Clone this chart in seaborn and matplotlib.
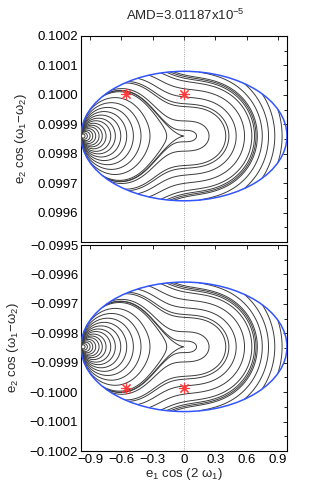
import numpy as np
import matplotlib
matplotlib.use("Agg")
import matplotlib.pyplot as plt
from matplotlib.patches import Ellipse
from matplotlib.ticker import FixedLocator, MultipleLocator
import seaborn as sns

sns.set_theme(style="white")
plt.rcParams['font.family'] = ['Liberation Sans', 'DejaVu Sans']
plt.rcParams['mathtext.fontset'] = 'custom'
plt.rcParams['mathtext.rm'] = 'Liberation Sans'
plt.rcParams['mathtext.it'] = 'Liberation Sans:italic'
plt.rcParams['mathtext.bf'] = 'Liberation Sans:bold'

# ---------------- data ----------------
title_text = "AMD=3.01187x10$^{-5}$"
e1_max = 0.987            # semi-axis of the AMD-limit ellipse (e1 direction)
e2_half = 0.00022         # semi-axis of the AMD-limit ellipse (e2 direction)
center_top = 0.09986
center_bot = -0.099846
aspect = 0.626            # e2 half-axis / e1 half-axis as drawn
sigma = 0.5               # width of the resonant term of the model
mu = 1.5                  # vertical strength of the resonant term

# contour crossings (e1 values)
left_cross_e1 = [-0.948, -0.926, -0.900, -0.874, -0.846, -0.814, -0.783,
                 -0.747, -0.702, -0.658, -0.606, -0.549, -0.485, -0.412,
                 -0.326, -0.166, 0.0]
right_cross_e1 = [0.12, 0.24, 0.40, 0.43, 0.50, 0.58, 0.65, 0.69, 0.75,
                  0.81, 0.87, 0.94]
# contour crossings read along e1 = 0 near the upper border (top panel y)
upper_cross_y = [0.100057, 0.100068]

star_e1 = [-0.556, 0.0]
star_y_top = [0.100002, 0.100002]
star_y_bot = [-0.099986, -0.099986]

xticks = [-0.9, -0.6, -0.3, 0.0, 0.3, 0.6, 0.9]
xtick_labels = ["\u22120.9", "\u22120.6", "\u22120.3", "0", "0.3", "0.6", "0.9"]
yticks_top = [0.0995, 0.0996, 0.0997, 0.0998, 0.0999, 0.1000, 0.1001, 0.1002]
yticks_bot = [-0.1002, -0.1001, -0.1000, -0.0999, -0.0998, -0.0997, -0.0996, -0.0995]


def field(X, Y):
    """Model secular Hamiltonian in isotropic normalised coordinates."""
    r2 = (X + 1.0) ** 2 + Y ** 2
    r2 = np.where(r2 == 0, 1e-12, r2)
    P = (X + 1.0) / r2
    G = (X - X ** 2 - mu * Y ** 2) * np.exp(-(X ** 2 + Y ** 2) / sigma ** 2)
    return P + G


# levels from the measured crossings
lv = [field(np.array(x / e1_max), np.array(0.0)) for x in left_cross_e1 + right_cross_e1]
lv += [field(np.array(0.0), np.array((y - center_top) / e2_half * aspect)) for y in upper_cross_y]
levels = np.unique(np.round(np.array(lv, dtype=float), 6))

# ---------------- grid ----------------
n = 1400
u = np.linspace(-1.0, 1.0, n)
v = np.linspace(-1.0, 1.0, n)
U, V = np.meshgrid(u, v)
H = field(U, V * aspect)
H = np.where(U ** 2 + V ** 2 <= 1.0, H, np.nan)

fig = plt.figure(figsize=(3.16, 4.87), dpi=100)
ax_top = fig.add_axes([0.2563, 0.5031, 0.6519, 0.4230])
ax_bot = fig.add_axes([0.2563, 0.0739, 0.6519, 0.4230])

line_col = '#3c3c3c'
blue = '#3355ff'
red = '#ff3b3b'

for ax, cen, sgn, sy, yt in [(ax_top, center_top, 1.0, star_y_top, yticks_top),
                              (ax_bot, center_bot, -1.0, star_y_bot, yticks_bot)]:
    X = e1_max * U
    Y = cen + sgn * e2_half * V
    ax.contour(X, Y, H, levels=levels, colors=line_col, linewidths=0.7,
               linestyles='solid')
    ax.add_patch(Ellipse((0.0, cen), 2 * e1_max, 2 * e2_half, fill=False,
                         edgecolor=blue, linewidth=1.1, zorder=3))
    ax.axvline(0.0, color='#8a8a8a', linestyle=':', linewidth=0.6, zorder=1)
    ax.plot(star_e1, sy, linestyle='none', marker=(8, 2, 0), markersize=8,
            markeredgewidth=0.8, color=red, zorder=4)
    ax.set_xlim(-e1_max, e1_max)
    ax.set_ylim(yt[0], yt[-1])
    ax.xaxis.set_major_locator(FixedLocator(xticks))
    ax.yaxis.set_major_locator(FixedLocator(yt))
    ax.yaxis.set_minor_locator(MultipleLocator(0.00005))
    ax.tick_params(which='both', direction='in', top=True, right=True,
                   labelsize=9.5, pad=2, width=0.6, colors='black')
    ax.tick_params(which='major', length=3)
    ax.tick_params(which='minor', length=2)
    for s in ax.spines.values():
        s.set_color('black')
        s.set_linewidth(0.8)
    ax.set_ylabel("e$_2$ cos (\u03c9$_1$\u2212\u03c9$_2$)", fontsize=9.5)

top_labels = ["%.4f" % t for t in yticks_top]
top_labels[0] = ""
ax_top.set_yticklabels(top_labels)
ax_bot.set_yticklabels([("%.4f" % t).replace("-", "\u2212") for t in yticks_bot])
ax_top.yaxis.set_label_coords(-0.25, 0.5)
ax_bot.yaxis.set_label_coords(-0.29, 0.5)

ax_top.set_xticklabels([])
ax_bot.set_xticklabels(xtick_labels)
ax_bot.set_xlabel("e$_1$ cos (2 \u03c9$_1$)", fontsize=9.5)
ax_bot.xaxis.set_label_coords(0.5, -0.075)

fig.text(0.585, 0.969, title_text, ha='center', va='center', fontsize=9.5)

fig.savefig("out.png", dpi=100)
